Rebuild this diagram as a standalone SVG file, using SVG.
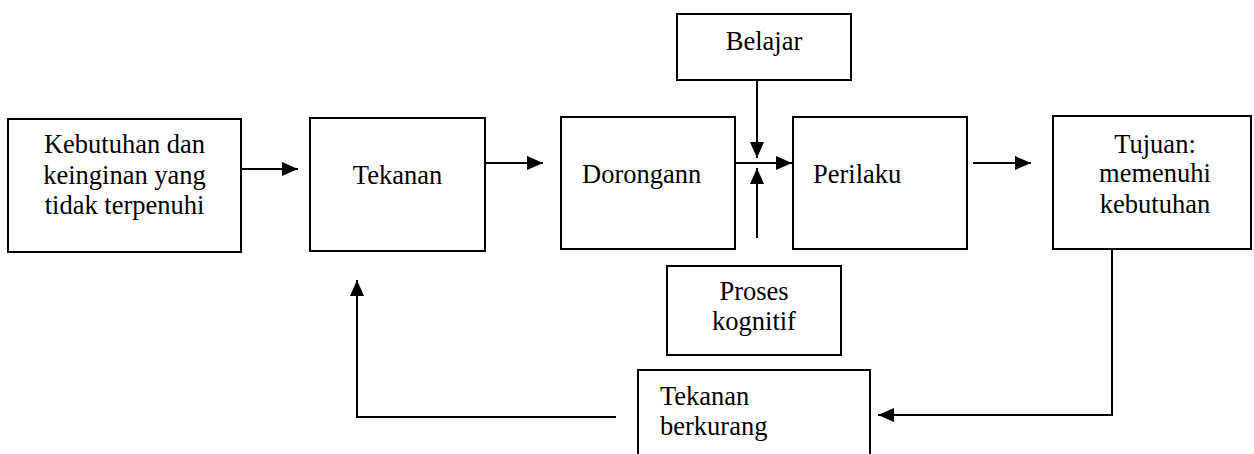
<svg xmlns="http://www.w3.org/2000/svg" width="1254" height="454" viewBox="0 0 1254 454">
<style>
.box{fill:#fff;stroke:#000;stroke-width:2}
.ln{fill:none;stroke:#000;stroke-width:2}
</style>
<defs>
<marker id="ah" markerUnits="userSpaceOnUse" markerWidth="18" markerHeight="16" refX="16" refY="7" orient="auto">
<path d="M0,0 L16,7 L0,14 z" fill="#000"/>
</marker>
</defs>
<g id="n-kebutuhan">
<rect class="box" x="8" y="119" width="233" height="133"/>
<text x="124.5" y="153" font-family="Liberation Serif" font-size="26.5" text-anchor="middle">Kebutuhan dan</text>
<text x="124.5" y="184" font-family="Liberation Serif" font-size="26.5" text-anchor="middle">keinginan yang</text>
<text x="124.5" y="214" font-family="Liberation Serif" font-size="26.5" text-anchor="middle">tidak terpenuhi</text>
</g>
<g id="n-tekanan">
<rect class="box" x="310" y="118" width="175" height="133"/>
<text x="397.5" y="184" font-family="Liberation Serif" font-size="26.5" text-anchor="middle">Tekanan</text>
</g>
<g id="n-dorongann">
<rect class="box" x="561" y="117" width="174" height="132"/>
<text x="582" y="183" font-family="Liberation Serif" font-size="26.5">Dorongann</text>
</g>
<g id="n-belajar">
<rect class="box" x="677" y="14" width="174" height="66"/>
<text x="764" y="50" font-family="Liberation Serif" font-size="26.5" text-anchor="middle">Belajar</text>
</g>
<g id="n-perilaku">
<rect class="box" x="793" y="117" width="174" height="132"/>
<text x="813" y="183" font-family="Liberation Serif" font-size="26.5">Perilaku</text>
</g>
<g id="n-tujuan">
<rect class="box" x="1053" y="116" width="198" height="133"/>
<text x="1155" y="153" font-family="Liberation Serif" font-size="26.5" text-anchor="middle">Tujuan:</text>
<text x="1155" y="182" font-family="Liberation Serif" font-size="26.5" text-anchor="middle">memenuhi</text>
<text x="1155" y="213" font-family="Liberation Serif" font-size="26.5" text-anchor="middle">kebutuhan</text>
</g>
<g id="n-proses">
<rect class="box" x="667" y="266" width="174" height="89"/>
<text x="754" y="300" font-family="Liberation Serif" font-size="26.5" text-anchor="middle">Proses</text>
<text x="754" y="330" font-family="Liberation Serif" font-size="26.5" text-anchor="middle">kognitif</text>
</g>
<g id="n-berkurang">
<rect class="box" x="638" y="370" width="232" height="86"/>
<text x="660" y="405" font-family="Liberation Serif" font-size="26.5">Tekanan</text>
<text x="660" y="435" font-family="Liberation Serif" font-size="26.5">berkurang</text>
</g>
<g id="connectors">
<line class="ln" x1="241" y1="169" x2="298" y2="169" marker-end="url(#ah)"/>
<line class="ln" x1="485" y1="163" x2="543" y2="163" marker-end="url(#ah)"/>
<line class="ln" x1="735" y1="163" x2="792" y2="163" marker-end="url(#ah)"/>
<line class="ln" x1="757" y1="80" x2="757" y2="158" marker-end="url(#ah)"/>
<line class="ln" x1="757" y1="238" x2="757" y2="168" marker-end="url(#ah)"/>
<line class="ln" x1="973" y1="163" x2="1031" y2="163" marker-end="url(#ah)"/>
<polyline class="ln" points="1112,249 1112,415 878,415" marker-end="url(#ah)"/>
<polyline class="ln" points="616,417 357,417 357,280" marker-end="url(#ah)"/>
</g>
</svg>
